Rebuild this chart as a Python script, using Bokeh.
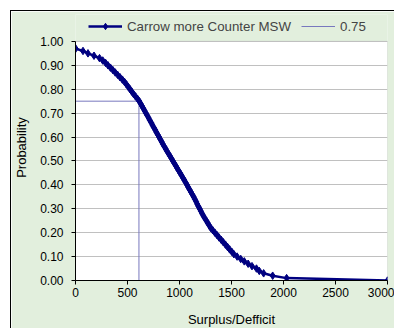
from bokeh.plotting import figure
from bokeh.models import (Legend, LegendItem, FixedTicker, NumeralTickFormatter,
                          Range1d, BoxAnnotation)
from bokeh.embed import file_html
from bokeh.resources import INLINE

# ---- data ----
probability = [0.97, 0.96, 0.95, 0.94, 0.93, 0.92, 0.91, 0.90, 0.89, 0.88,
               0.87, 0.86, 0.85, 0.84, 0.83, 0.82, 0.81, 0.80, 0.79, 0.78,
               0.77, 0.76, 0.75, 0.74, 0.73, 0.72, 0.71, 0.70, 0.69, 0.68,
               0.67, 0.66, 0.65, 0.64, 0.63, 0.62, 0.61, 0.60, 0.59, 0.58,
               0.57, 0.56, 0.55, 0.54, 0.53, 0.52, 0.51, 0.50, 0.49, 0.48,
               0.47, 0.46, 0.45, 0.44, 0.43, 0.42, 0.41, 0.40, 0.39, 0.38,
               0.37, 0.36, 0.35, 0.34, 0.33, 0.32, 0.31, 0.30, 0.29, 0.28,
               0.27, 0.26, 0.25, 0.24, 0.23, 0.22, 0.21, 0.20, 0.19, 0.18,
               0.17, 0.16, 0.15, 0.14, 0.13, 0.12, 0.11, 0.10, 0.09, 0.08,
               0.07, 0.06, 0.05, 0.04, 0.03, 0.02, 0.01, 0.00]
surplus = [2, 72, 120, 178, 231, 262, 289, 312, 336, 359,
           382, 405, 428, 451, 472, 490, 507, 524, 541, 558,
           577, 596, 613, 626, 639, 652, 664, 677, 690, 703,
           715, 728, 740, 753, 766, 778, 791, 804, 816, 829,
           841, 854, 868, 881, 895, 909, 923, 936, 950, 964,
           977, 991, 1005, 1019, 1032, 1046, 1059, 1072, 1084, 1097,
           1110, 1123, 1136, 1148, 1160, 1170, 1182, 1194, 1206, 1217,
           1230, 1244, 1258, 1272, 1286, 1300, 1320, 1340, 1360, 1380,
           1401, 1421, 1442, 1462, 1482, 1503, 1523, 1554, 1589, 1623,
           1660, 1697, 1740, 1767, 1809, 1896, 2030, 3000]
level = 0.75
level_surplus = 610
series_name = "Carrow more Counter MSW"
level_name = "0.75"
x_ticks = [0, 500, 1000, 1500, 2000, 2500, 3000]
y_ticks = [0.0, 0.1, 0.2, 0.3, 0.4, 0.5, 0.6, 0.7, 0.8, 0.9, 1.0]

FONT = "Liberation Sans"
GREEN = "#E2EFDD"
NAVY = "#000080"
LEVEL_COLOR = "#7878BE"

X_MIN, X_MAX = 0, 3000
Y_MIN, Y_MAX = 0, 1
Y_VIEW_MAX = 1.1125  # extra room above the plot area for the legend

p = figure(width=384, height=318, output_backend="svg", toolbar_location=None,
           x_range=Range1d(X_MIN, X_MAX), y_range=Range1d(Y_MIN, Y_VIEW_MAX),
           min_border_left=63, min_border_right=8, min_border_top=3,
           min_border_bottom=48)
p.styles = {"margin-left": "10px", "margin-top": "10px",
            "border-left": "1px solid black", "border-top": "1px solid black"}

p.background_fill_color = GREEN
p.border_fill_color = GREEN
p.outline_line_color = None

# white plot area with grey outline
plot_area = BoxAnnotation(left=X_MIN, right=X_MAX, bottom=Y_MIN, top=Y_MAX,
                          fill_color="white", fill_alpha=1,
                          line_color="#909090", line_width=1, level="image")
p.add_layout(plot_area)

p.xgrid.visible = False
p.ygrid.grid_line_color = "#C0C0C0"
p.ygrid.grid_line_width = 1

for ax in (p.xaxis[0], p.yaxis[0]):
    ax.axis_line_color = "black"
    ax.major_tick_line_color = "black"
    ax.major_tick_in = 0
    ax.major_tick_out = 4
    ax.minor_tick_line_color = None
    ax.major_label_text_font = FONT
    ax.major_label_text_font_size = "12px"
    ax.major_label_text_color = "black"
    ax.axis_label_text_font = FONT
    ax.axis_label_text_font_size = "13px"
    ax.axis_label_text_font_style = "normal"
    ax.axis_label_text_color = "black"

p.yaxis.bounds = (Y_MIN, Y_MAX)
p.xaxis.ticker = FixedTicker(ticks=x_ticks)
p.yaxis.ticker = FixedTicker(ticks=y_ticks)
p.yaxis.formatter = NumeralTickFormatter(format="0.00")
p.xaxis.axis_label = "Surplus/Defficit"
p.yaxis.axis_label = "Probability"
p.xaxis.major_label_standoff = 3
p.xaxis.axis_label_standoff = 12
p.yaxis.major_label_standoff = 8
p.yaxis.axis_label_standoff = 8

lvl = p.line([X_MIN, level_surplus, level_surplus], [level, level, Y_MIN],
             line_color=LEVEL_COLOR, line_width=1)
ln = p.line(surplus, probability, line_color=NAVY, line_width=2.5)
sc = p.scatter(surplus, probability, marker="diamond", size=7.5,
               fill_color=NAVY, line_color=NAVY)

legend = Legend(items=[LegendItem(label=series_name, renderers=[ln, sc]),
                       LegendItem(label=level_name, renderers=[lvl])],
                orientation="horizontal", location=(13, 246),
                background_fill_alpha=0, border_line_color=None,
                label_text_font=FONT, label_text_font_size="13.3px",
                glyph_width=34, glyph_height=16, label_height=16,
                label_standoff=5, spacing=10, padding=2, margin=0)
p.add_layout(legend, "center")

open("out.html", "w").write(file_html(p, INLINE))
